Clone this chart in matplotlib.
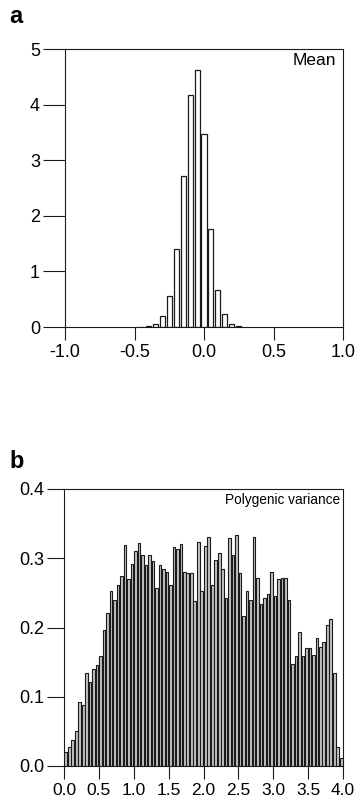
import numpy as np
import matplotlib
matplotlib.use("Agg")
import matplotlib.pyplot as plt

plt.rcParams["font.family"] = ["Liberation Sans", "DejaVu Sans"]

# panel a: distribution of the mean (bin centres, bin width 0.05)
mean_bins = [-0.45, -0.40, -0.35, -0.30, -0.25, -0.20, -0.15, -0.10,
             -0.05, 0.00, 0.05, 0.10, 0.15, 0.20, 0.25]
mean_freq = [0.005, 0.02, 0.05, 0.20, 0.56, 1.40, 2.72, 4.18,
             4.62, 3.47, 1.77, 0.67, 0.24, 0.05, 0.01]

# panel b: polygenic variance, 80 bins of width 0.05 from 0 to 4
var_freq = [0.020, 0.028, 0.038, 0.050, 0.092, 0.088, 0.134, 0.121, 0.140, 0.146,
            0.159, 0.196, 0.221, 0.252, 0.239, 0.261, 0.274, 0.319, 0.270, 0.292,
            0.310, 0.322, 0.304, 0.290, 0.304, 0.296, 0.257, 0.290, 0.284, 0.280,
            0.262, 0.316, 0.313, 0.320, 0.280, 0.278, 0.279, 0.238, 0.324, 0.252,
            0.318, 0.330, 0.262, 0.298, 0.308, 0.284, 0.242, 0.329, 0.304, 0.333,
            0.278, 0.217, 0.252, 0.239, 0.331, 0.271, 0.234, 0.242, 0.248, 0.280,
            0.246, 0.270, 0.271, 0.271, 0.240, 0.148, 0.159, 0.193, 0.159, 0.170,
            0.170, 0.160, 0.185, 0.172, 0.179, 0.204, 0.212, 0.135, 0.027, 0.011]
var_bins = 0.025 + 0.05 * np.arange(len(var_freq))

a_ticks = [-1.0, -0.5, 0.0, 0.5, 1.0]
b_xticks = np.arange(0, 4.01, 0.5)
b_yticks = [0.0, 0.1, 0.2, 0.3, 0.4]

fig = plt.figure(figsize=(3.59, 8.11), dpi=100)
W, H = 359, 811
edge = "#1a1a1a"


def style(ax, ylen, xsize, ysize):
    for s in ax.spines.values():
        s.set_linewidth(0.8)
        s.set_color(edge)
    ax.tick_params(axis="x", which="major", direction="out", length=9.5,
                   width=0.8, pad=3, labelsize=xsize, color=edge)
    ax.tick_params(axis="y", which="major", direction="out", length=ylen,
                   width=0.8, pad=2, labelsize=ysize, color=edge)


# ---- a ----
axa = fig.add_axes([65 / W, 1 - 327 / H, 278 / W, 278 / H])
axa.bar(mean_bins, mean_freq, width=0.036, color="white",
        edgecolor=edge, linewidth=0.9)
axa.set_xlim(-1, 1)
axa.set_ylim(0, 5)
axa.set_xticks(a_ticks)
axa.set_xticklabels([f"{t:.1f}" for t in a_ticks])
axa.set_yticks(range(6))
style(axa, 16, 13, 13)
axa.text(0.975, 0.985, "Mean", transform=axa.transAxes, ha="right", va="top",
         fontsize=12.5)
fig.text(9 / W, 1 - 5 / H, "a", fontsize=17, fontweight="bold", va="top")

# ---- b ----
axb = fig.add_axes([64 / W, 1 - 766 / H, 279 / W, 277 / H])
axb.bar(var_bins, var_freq, width=0.038, color="#c4c4c4",
        edgecolor=edge, linewidth=0.8)
axb.set_xlim(0, 4)
axb.set_ylim(0, 0.4)
axb.set_xticks(b_xticks)
axb.set_xticklabels([f"{t:.1f}" for t in b_xticks])
axb.set_yticks(b_yticks)
axb.set_yticklabels([f"{t:.1f}" for t in b_yticks])
style(axb, 12, 12.5, 13)
axb.text(0.99, 0.985, "Polygenic variance", transform=axb.transAxes,
         ha="right", va="top", fontsize=9.8)
fig.text(9 / W, 1 - 450 / H, "b", fontsize=17, fontweight="bold", va="top")

fig.savefig("out.png", dpi=100)
